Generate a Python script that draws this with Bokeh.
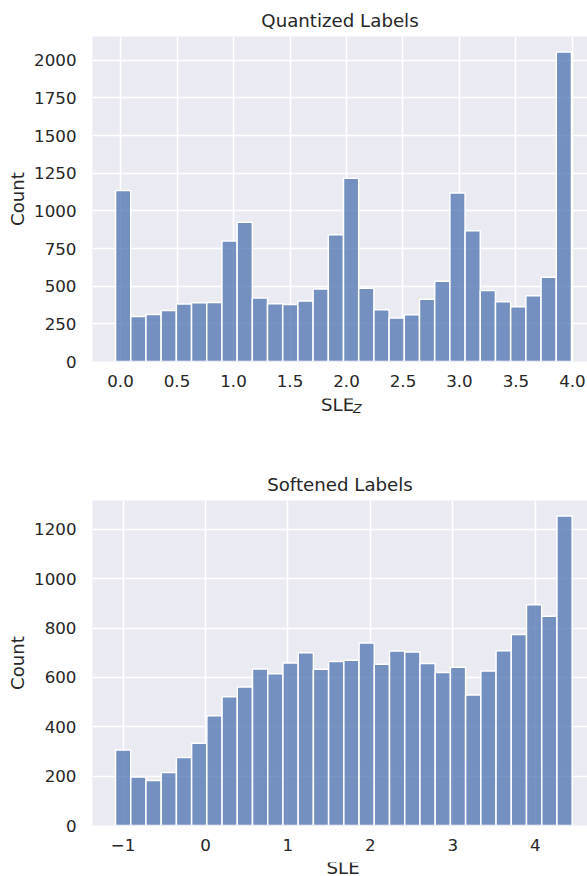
import numpy as np
from bokeh.plotting import figure
from bokeh.models import Range1d, FixedTicker, Label
from bokeh.layouts import column
from bokeh.embed import file_html
from bokeh.resources import INLINE

# ---------------- data ----------------
# Quantized labels histogram (30 bins)
q_bin_start = -0.044
q_bin_end = 3.991
q_counts = [1136, 299, 312, 339, 381, 390, 392, 800, 924, 421,
            383, 379, 401, 481, 842, 1216, 487, 343, 288, 310,
            414, 532, 1118, 868, 472, 396, 363, 436, 560, 2055]
q_xlim = (-0.248, 4.133)
q_xticks = [0.0, 0.5, 1.0, 1.5, 2.0, 2.5, 3.0, 3.5, 4.0]
q_xtick_labels = ["0.0", "0.5", "1.0", "1.5", "2.0", "2.5", "3.0", "3.5", "4.0"]
q_yticks = [0, 250, 500, 750, 1000, 1250, 1500, 1750, 2000]

# Softened labels histogram (30 bins)
s_bin_start = -1.091
s_bin_end = 4.447
s_counts = [306, 196, 182, 215, 275, 333, 445, 522, 561, 634,
            615, 658, 700, 633, 664, 669, 739, 653, 707, 703,
            656, 620, 641, 529, 626, 708, 774, 894, 848, 1254]
s_xlim = (-1.370, 4.633)
s_xticks = [-1, 0, 1, 2, 3, 4]
s_xtick_labels = ["\u22121", "0", "1", "2", "3", "4"]
s_yticks = [0, 200, 400, 600, 800, 1000, 1200]

FONT = "DejaVu Sans"
TXT = "#262626"
BG = "#eaeaf2"
BAR = "#4c72b0"
TICK_FS = "16.7px"
LAB_FS = "18.2px"
SUB_FS = "12.7px"


def make_hist(title, counts, b0, b1, xlim, xticks, xlabels, yticks, border_top):
    n = len(counts)
    edges = np.linspace(b0, b1, n + 1)
    p = figure(frame_width=495, frame_height=325,
               min_border_left=92, min_border_right=0,
               min_border_top=border_top, min_border_bottom=37,
               x_range=Range1d(*xlim),
               y_range=Range1d(0, max(counts) * 1.05),
               output_backend="svg", toolbar_location=None, title=title)
    p.background_fill_color = BG
    p.border_fill_color = "white"
    p.outline_line_color = None

    p.title.text_font = FONT
    p.title.text_font_size = LAB_FS
    p.title.text_font_style = "normal"
    p.title.text_color = TXT
    p.title.align = "center"
    p.title.offset = 3
    p.title.standoff = 11

    p.quad(left=edges[:-1], right=edges[1:], bottom=0, top=counts,
           fill_color=BAR, fill_alpha=0.75, line_color="white", line_width=1.5)

    for g in p.grid:
        g.grid_line_color = "white"
        g.grid_line_width = 1.5
    p.xgrid.ticker = FixedTicker(ticks=xticks)
    p.ygrid.ticker = FixedTicker(ticks=yticks)

    p.xaxis.ticker = FixedTicker(ticks=xticks)
    p.xaxis.major_label_overrides = {t: l for t, l in zip(xticks, xlabels)}
    p.yaxis.ticker = FixedTicker(ticks=yticks)

    for ax in p.axis:
        ax.axis_line_color = None
        ax.major_tick_line_color = None
        ax.minor_tick_line_color = None
        ax.major_tick_out = 0
        ax.major_tick_in = 0
        ax.minor_tick_out = 0
        ax.minor_tick_in = 0
        ax.major_label_text_font = FONT
        ax.major_label_text_font_size = TICK_FS
        ax.major_label_text_color = TXT
        ax.axis_label_text_font = FONT
        ax.axis_label_text_font_size = LAB_FS
        ax.axis_label_text_font_style = "normal"
        ax.axis_label_text_color = TXT
    p.xaxis.axis_label = None
    p.xaxis.major_label_standoff = 13
    p.yaxis.major_label_standoff = 16
    p.yaxis.axis_label = "Count"
    p.yaxis.axis_label_standoff = 3
    return p


def label_strip(height, labels):
    s = figure(width=587, height=height, min_border=0,
               x_range=Range1d(0, 1), y_range=Range1d(0, 1),
               x_axis_location=None, y_axis_location=None,
               output_backend="svg", toolbar_location=None)
    s.grid.visible = False
    s.outline_line_color = None
    s.background_fill_color = "white"
    s.border_fill_color = "white"
    for lab in labels:
        s.add_layout(lab)
    return s


# x positions below are measured from the (aligned) frame's left edge
p1 = make_hist("Quantized Labels", q_counts, q_bin_start, q_bin_end, q_xlim,
               q_xticks, q_xtick_labels, q_yticks, 36)
x1 = label_strip(64, [
    Label(x=228.5, y=58, x_units="screen", y_units="screen", text="SLE",
          text_font=FONT, text_font_size=LAB_FS, text_color=TXT,
          text_align="left", text_baseline="alphabetic"),
    Label(x=260.5, y=54.5, x_units="screen", y_units="screen", text="Z",
          text_font=FONT, text_font_size=SUB_FS, text_font_style="italic",
          text_color=TXT, text_align="left", text_baseline="alphabetic"),
])

p2 = make_hist("Softened Labels", s_counts, s_bin_start, s_bin_end, s_xlim,
               s_xticks, s_xtick_labels, s_yticks, 38)
x2 = label_strip(14, [
    Label(x=250.6, y=9.5, x_units="screen", y_units="screen", text="SLE",
          text_font=FONT, text_font_size=LAB_FS, text_color=TXT,
          text_align="center", text_baseline="alphabetic"),
])

layout = column(p1, x1, p2, x2)
open("out.html", "w").write(file_html(layout, INLINE))
